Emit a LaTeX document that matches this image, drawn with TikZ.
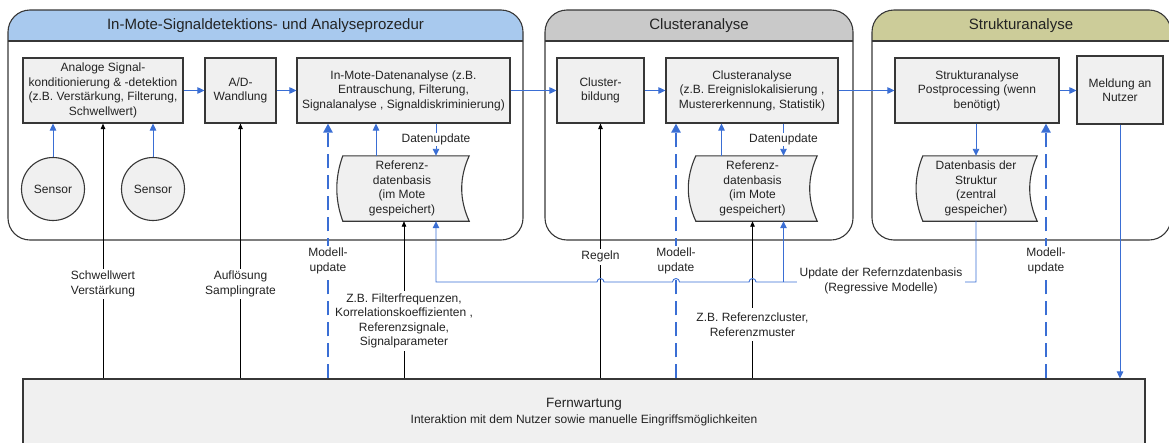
\documentclass[tikz,border=0pt]{standalone}
\usepackage{fontspec}
\setmainfont{Liberation Sans}
\usetikzlibrary{arrows.meta,positioning}
\pgfdeclarelayer{bg}
\pgfsetlayers{bg,main}
\definecolor{hdrblue}{RGB}{168,201,238}
\definecolor{hdrgray}{RGB}{201,201,201}
\definecolor{hdrolive}{RGB}{204,204,153}
\definecolor{boxfill}{RGB}{240,240,240}
\definecolor{boxline}{RGB}{55,55,55}
\definecolor{flowblue}{RGB}{58,110,212}
\definecolor{inkgray}{RGB}{35,35,35}
\tikzset{
    every node/.style={font=\fontsize{12}{14.5}\selectfont, text=inkgray}
}
\tikzset{
    procbox/.style={rectangle, draw=boxline, fill=boxfill, line width=1.1pt, align=center, minimum height=65pt, inner sep=2pt},
    storebox/.style={rectangle, align=center, minimum height=65pt, inner sep=0pt},
    sensor/.style={circle, draw=boxline, fill=boxfill, line width=1.1pt, minimum size=63pt, inner sep=0pt},
    storeline/.style={draw=boxline, fill=boxfill, line width=1.1pt},
    grpline/.style={draw=boxline, line width=1.1pt, rounded corners=22pt},
    hdr/.style={font=\fontsize{15}{18}\selectfont},
    lbl/.style={fill=white, align=center, inner sep=2.5pt},
    flow/.style={draw=flowblue, line width=0.9pt, -{Triangle[length=7pt,width=6.5pt]}},
    ctrl/.style={draw=black, line width=0.9pt, -{Triangle[length=5.5pt,width=4.5pt]}},
    modelupd/.style={draw=flowblue, line width=2.6pt, dash pattern=on 14pt off 7pt, -{Triangle[length=9pt,width=9pt]}}
}

\begin{document}
\begin{tikzpicture}[x=1pt, y=-1pt]
  \useasboundingbox (0,0) rectangle (1169,442);

  \node[hdr] (hdr1) at (265.5,25.5) {In-Mote-Signaldetektions- und Analyseprozedur};
  \node[hdr] (hdr2) at (699,25.5) {Clusteranalyse};
  \node[hdr] (hdr3) at (1021,25.5) {Strukturanalyse};

  \node[procbox, minimum width=160pt] (ana) at (103,90.5) {Analoge Signal-\\konditionierung \& -detektion\\(z.B. Verstärkung, Filterung,\\Schwellwert)};
  \node[procbox, minimum width=71pt] (ad) at (240.5,90.5) {A/D-\\Wandlung};
  \node[procbox, minimum width=213pt] (imda) at (403.5,90.5) {In-Mote-Datenanalyse (z.B.\\Entrauschung, Filterung,\\Signalanalyse , Signaldiskriminierung)};
  \node[procbox, minimum width=87pt] (cb) at (600.5,90.5) {Cluster-\\bildung};
  \node[procbox, minimum width=172pt] (cla) at (752,90.5) {Clusteranalyse\\(z.B. Ereignislokalisierung ,\\Mustererkennung, Statistik)};
  \node[procbox, minimum width=164pt] (strk) at (977,90.5) {Strukturanalyse\\Postprocessing (wenn\\benötigt)};
  \node[procbox, minimum width=86pt, minimum height=68pt] (meld) at (1120,90) {Meldung an\\Nutzer};

  \node[sensor] (s1) at (53,189) {Sensor};
  \node[sensor] (s2) at (153,189) {Sensor};

  \node[storebox, minimum width=126pt] (ref1) at (402,188.5) {Referenz-\\datenbasis\\(im Mote\\gespeichert)};
  \node[storebox, minimum width=121pt] (ref2) at (752.5,188.5) {Referenz-\\datenbasis\\(im Mote\\gespeichert)};
  \node[storebox, minimum width=114pt] (refs) at (976,188.5) {Datenbasis der\\Struktur\\(zentral\\gespeicher)};

  \node[procbox, minimum width=1122pt, minimum height=90pt] (fw) at (584,424) {};
  \node[align=center, inner sep=0pt, below=20pt of fw.north] (fwtxt) {{\fontsize{13.5}{16}\selectfont Fernwartung}\\[1pt]{\fontsize{12}{14}\selectfont Interaktion mit dem Nutzer sowie manuelle Eingriffsmöglichkeiten}};

  \begin{pgfonlayer}{bg}
    \begin{scope}
      \clip (0,0) rectangle (1169,41);
      \fill[hdrblue, rounded corners=22pt] (8,10) rectangle (523,240);
      \fill[hdrgray, rounded corners=22pt] (545,10) rectangle (853,240);
      \fill[hdrolive, rounded corners=22pt] (872,10) rectangle (1171,240);
    \end{scope}
    \draw[grpline] (8,10) rectangle (523,240);
    \draw[grpline] (8,41) -- (523,41);
    \draw[grpline] (545,10) rectangle (853,240);
    \draw[grpline] (545,41) -- (853,41);
    \draw[grpline] (872,10) rectangle (1171,240);
    \draw[grpline] (872,41) -- (1171,41);

    \draw[storeline] ([xshift=4pt]ref1.north west) .. controls +(-8,22) and +(-8,-22) .. ([xshift=4pt]ref1.south west) -- ([xshift=4pt]ref1.south east) .. controls +(-10,-22) and +(-10,22) .. ([xshift=4pt]ref1.north east) -- cycle;
    \draw[storeline] ([xshift=4pt]ref2.north west) .. controls +(-10,22) and +(-10,-22) .. ([xshift=4pt]ref2.south west) -- ([xshift=4pt]ref2.south east) .. controls +(-10,-22) and +(-10,22) .. ([xshift=4pt]ref2.north east) -- cycle;
    \draw[storeline] ([xshift=4pt]refs.north west) .. controls +(-9,22) and +(-9,-22) .. ([xshift=4pt]refs.south west) -- ([xshift=4pt]refs.south east) .. controls +(-10,-22) and +(-10,22) .. ([xshift=4pt]refs.north east) -- cycle;
  \end{pgfonlayer}

  \draw[flow] (ana.east) -- (ad.west);
  \draw[flow] (ad.east) -- (imda.west);
  \draw[flow] (imda.east) -- (cb.west);
  \draw[flow] (cb.east) -- (cla.west);
  \draw[flow] (cla.east) -- (strk.west);
  \draw[flow] (strk.east) -- (strk.east -| meld.west);
  \draw[flow] (s1) -- (s1 |- ana.south);
  \draw[flow] (s2) -- (s2 |- ana.south);

  \draw[flow] ([xshift=-26pt]ref1.north) -- ([xshift=-26pt]ref1.north |- imda.south);
  \draw[flow] ([xshift=34pt]ref1.north |- imda.south) -- node[lbl, inner sep=1pt] {Datenupdate} ([xshift=34pt]ref1.north);
  \draw[flow] ([xshift=-31pt]ref2.north) -- ([xshift=-31pt]ref2.north |- cla.south);
  \draw[flow] ([xshift=31pt]ref2.north |- cla.south) -- node[lbl, inner sep=1pt] {Datenupdate} ([xshift=31pt]ref2.north);
  \draw[flow] (refs.north |- strk.south) -- (refs.north);
  \draw[flow] (meld.south) -- (meld.south |- fw.north);

  \draw[ctrl] (ana.south |- fw.north) -- node[lbl, pos=0.37] {Schwellwert\\Verstärkung} (ana.south);
  \draw[ctrl] (ad.south |- fw.north) -- node[lbl, pos=0.37] {Auflösung\\Samplingrate} (ad.south);
  \draw[ctrl] ([xshift=2pt]ref1.south |- fw.north) -- node[lbl, pos=0.367] {Z.B. Filterfrequenzen,\\Korrelationskoeffizienten ,\\Referenzsignale,\\Signalparameter} ([xshift=2pt]ref1.south);
  \draw[ctrl] (cb.south |- fw.north) -- node[lbl, pos=0.477] {Regeln} (cb.south);
  \draw[ctrl] (ref2.south |- fw.north) -- node[lbl, pos=0.342, inner ysep=5pt] {Z.B. Referenzcluster,\\Referenzmuster} (ref2.south);

  \draw[modelupd] ([xshift=-75.5pt]imda.south |- fw.north) -- node[lbl, pos=0.461] {Modell-\\update} ([xshift=-75.5pt]imda.south);
  \draw[modelupd] ([xshift=-76pt]cla.south |- fw.north) -- node[lbl, pos=0.461] {Modell-\\update} ([xshift=-76pt]cla.south);
  \draw[modelupd] ([xshift=69pt]strk.south |- fw.north) -- node[lbl, pos=0.461] {Modell-\\update} ([xshift=69pt]strk.south);

  \coordinate (busy) at (0,282);
  \draw[flow] (refs.south) -- (refs.south |- busy)
    -- ([xshift=3.5pt]ref2.south |- busy) arc[start angle=0, end angle=-180, radius=3.5]
    -- ([xshift=-72.5pt]cla.south |- busy) arc[start angle=0, end angle=-180, radius=3.5]
    -- ([xshift=3.5pt]cb.south |- busy) arc[start angle=0, end angle=-180, radius=3.5]
    -- ([xshift=34pt]ref1.south |- busy) -- ([xshift=34pt]ref1.south);
  \draw[flow] ([xshift=31pt]ref2.south |- busy) -- ([xshift=31pt]ref2.south);
  \node[lbl, inner sep=3pt] (updlbl) at (881,281) {Update der Refernzdatenbasis\\(Regressive Modelle)};

\end{tikzpicture}
\end{document}
